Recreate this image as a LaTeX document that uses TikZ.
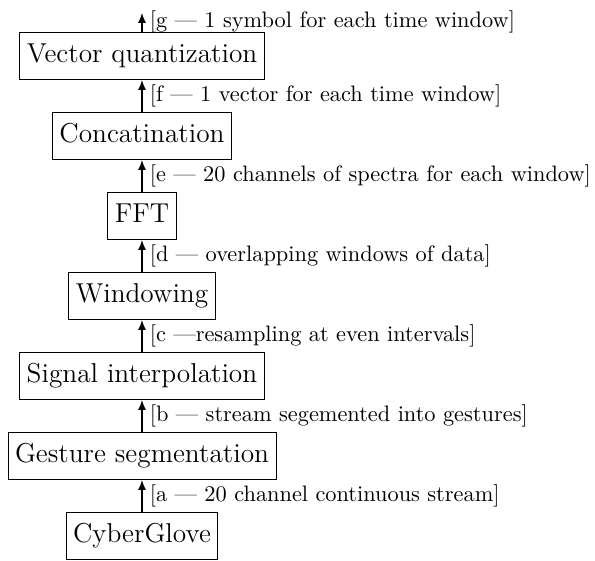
\documentclass[tikz,border=0pt]{standalone}
\usepackage{tikz}
\usetikzlibrary{arrows.meta}

\begin{document}
\begin{tikzpicture}[x=0.461pt, y=-0.461pt,
    stage/.style={draw, thin, font=\fontsize{12.6}{15}\selectfont,
                  inner xsep=3.2pt, inner ysep=5.2pt,
                  text height=8.8pt, text depth=2.5pt},
    flow/.style={-{Latex[length=4.6pt,width=3.7pt]}, line width=0.6pt},
    note/.style={right, font=\fontsize{10.3}{12}\selectfont}]
            \useasboundingbox (0,0) rectangle (595,561);

            % Processing stages (bottom to top)
            \node [stage] (cyber)   at (142,536) {CyberGlove};
            \node [stage] (gesture) at (142,456) {Gesture segmentation};
            \node [stage] (interp)  at (142,376) {Signal interpolation};
            \node [stage] (window)  at (142,296) {Windowing};
            \node [stage] (fft)     at (142,216) {FFT};
            \node [stage] (concat)  at (142,136) {Concatination};
            \node [stage] (vq)      at (142,56)  {Vector quantization};
            \coordinate (out) at (142,13);

            % Data passed between stages
            \draw [flow] (cyber) -- (gesture)
                node [note, midway] {[a --- 20 channel continuous stream]};
            \draw [flow] (gesture) -- (interp)
                node [note, midway] {[b --- stream segemented into gestures]};
            \draw [flow] (interp) -- (window)
                node [note, midway] {[c ---resampling at even intervals]};
            \draw [flow] (window) -- (fft)
                node [note, midway] {[d --- overlapping windows of data]};
            \draw [flow] (fft) -- (concat)
                node [note, midway] {[e --- 20 channels of spectra for each window]};
            \draw [flow] (concat) -- (vq)
                node [note, midway] {[f --- 1 vector for each time window]};
            \draw [flow] (vq) -- (out)
                node [note, pos=0.55] {[g --- 1 symbol for each time window]};
        \end{tikzpicture}
\end{document}
